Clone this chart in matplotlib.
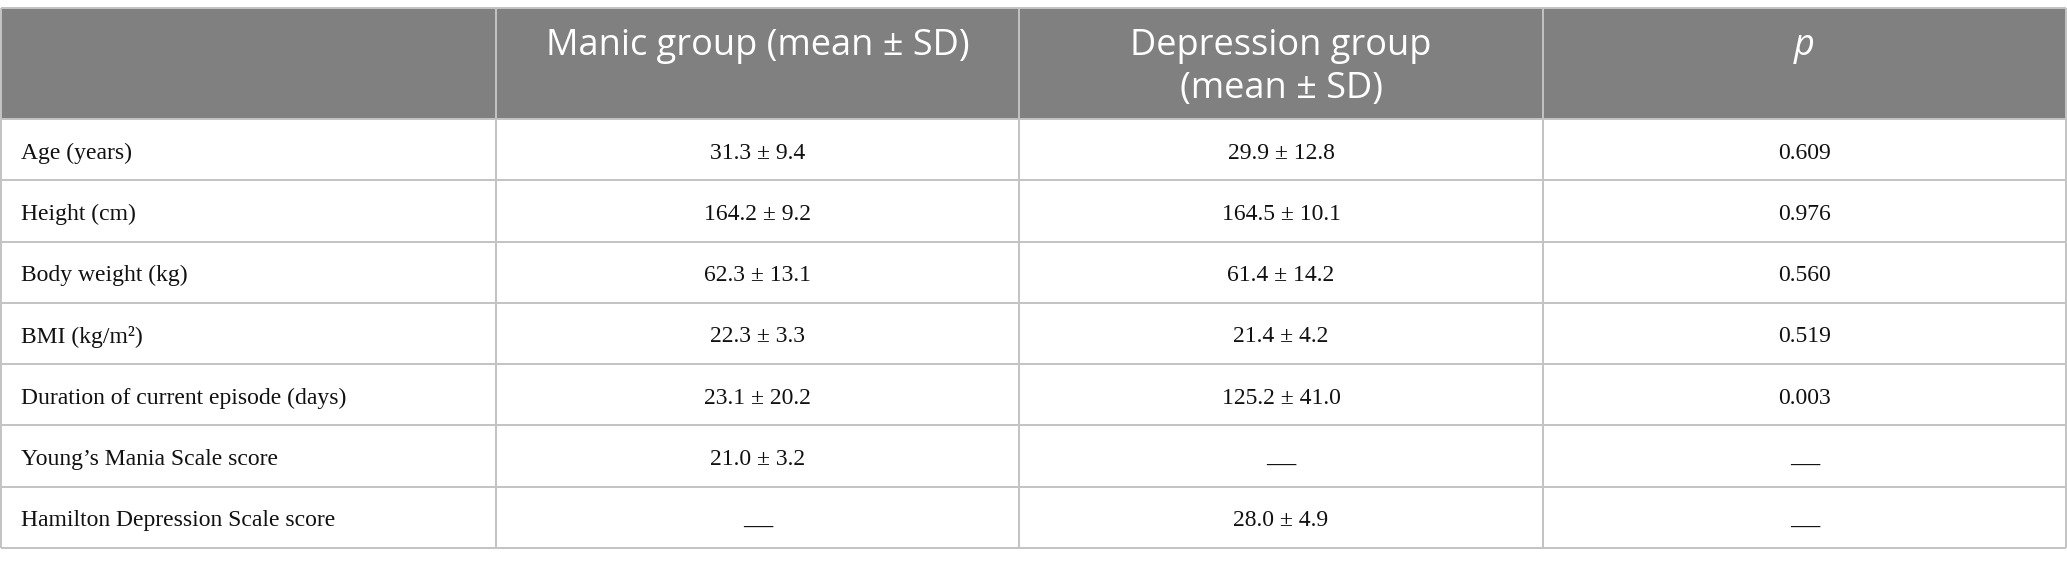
import matplotlib
matplotlib.use("Agg")
import matplotlib.pyplot as plt

header = ["", "Manic group (mean ± SD)", "Depression group\n(mean ± SD)", "p"]
row_labels = [
    "Age (years)",
    "Height (cm)",
    "Body weight (kg)",
    "BMI (kg/m²)",
    "Duration of current episode (days)",
    "Young’s Mania Scale score",
    "Hamilton Depression Scale score",
]
manic = ["31.3 ± 9.4", "164.2 ± 9.2", "62.3 ± 13.1", "22.3 ± 3.3", "23.1 ± 20.2", "21.0 ± 3.2", "—"]
depression = ["29.9 ± 12.8", "164.5 ± 10.1", "61.4 ± 14.2", "21.4 ± 4.2", "125.2 ± 41.0", "—", "28.0 ± 4.9"]
p_values = ["0.609", "0.976", "0.560", "0.519", "0.003", "—", "—"]

W, H = 2067, 564
fig = plt.figure(figsize=(W / 100, H / 100), dpi=100)
ax = fig.add_axes([0, 0, 1, 1])
ax.set_xlim(0, W)
ax.set_ylim(H, 0)
ax.axis("off")

col_x = [1, 496, 1019, 1543, 2066]
top = 8
head_bot = 119
bottom = 548
n = len(row_labels)
row_h = (bottom - head_bot) / n
row_y = [head_bot + i * row_h for i in range(n + 1)]

header_color = "#7f807f"
line_color = "#c3c3c3"
text_color = "#111111"

ax.add_patch(plt.Rectangle((col_x[0], top), col_x[-1] - col_x[0], head_bot - top,
                           facecolor=header_color, edgecolor="none", zorder=1))

lw = 1.4
for y in [top, head_bot] + row_y[1:]:
    ax.plot([col_x[0], col_x[-1]], [y, y], color=line_color, lw=lw, zorder=2,
            solid_capstyle="butt")
for x in col_x:
    ax.plot([x, x], [top, bottom], color=line_color, lw=lw, zorder=2,
            solid_capstyle="butt")

hfont = dict(family="Open Sans", fontsize=26, color="white")
for j, h in enumerate(header):
    if not h:
        continue
    cx = (col_x[j] + col_x[j + 1]) / 2
    lines = h.split("\n")
    for k, ln in enumerate(lines):
        ax.text(cx, 42 + k * 43, ln, ha="center", va="center_baseline",
                style="italic" if ln == "p" else "normal", zorder=3, **hfont)

bfont = dict(family="Liberation Serif", fontsize=17, color=text_color)
for i in range(n):
    cy = (row_y[i] + row_y[i + 1]) / 2
    ax.text(21, cy + 1, row_labels[i], ha="left", va="center_baseline", zorder=3, **bfont)
    for j, vals in enumerate([manic, depression, p_values], start=1):
        cx = (col_x[j] + col_x[j + 1]) / 2
        v = vals[i]
        if v == "—":
            ax.text(cx, cy + 10, v, ha="center", va="center", zorder=3,
                    family="Liberation Serif", fontsize=21, color=text_color)
        else:
            ax.text(cx, cy + 1, v, ha="center", va="center_baseline", zorder=3, **bfont)

fig.savefig("out.png", dpi=100, facecolor="white")
